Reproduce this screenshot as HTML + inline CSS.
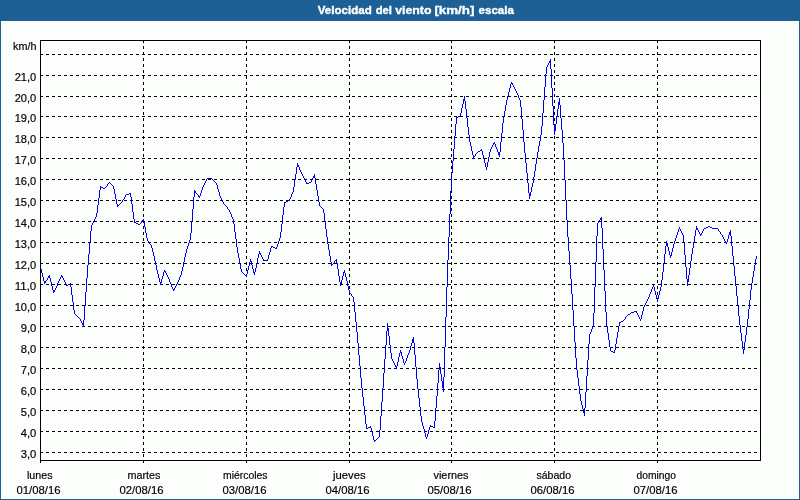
<!DOCTYPE html>
<html lang="es"><head><meta charset="utf-8"><title>Velocidad del viento [km/h] escala</title>
<style>
html,body{margin:0;padding:0;background:#1c6096;}
body{width:800px;height:500px;overflow:hidden;position:relative;font-family:"Liberation Sans",sans-serif;}
#panel{position:absolute;left:1px;top:21px;width:798px;height:478px;background:#fcfefc;}
svg{position:absolute;left:0;top:0;display:block;}
text{font-family:"Liberation Sans",sans-serif;font-size:11px;fill:#000;stroke:#000;stroke-width:0.18px;}
.t{font-weight:bold;fill:#fff;stroke:#fff;stroke-width:0.35px;font-size:11px;}
.g{stroke:#000;stroke-width:1;stroke-dasharray:3 3;fill:none;shape-rendering:crispEdges;}
.f{stroke:#000;stroke-width:1;fill:none;shape-rendering:crispEdges;}
.d{fill:#0202ea;stroke:none;shape-rendering:crispEdges;}
</style></head><body>
<div id="panel"></div>
<svg width="800" height="500" viewBox="0 0 800 500">
<text class="t" y="14"><tspan x="317.8" textLength="54" lengthAdjust="spacingAndGlyphs">Velocidad</tspan> <tspan x="375.7" textLength="16.3" lengthAdjust="spacingAndGlyphs">del</tspan> <tspan x="395.2" textLength="36.3" lengthAdjust="spacingAndGlyphs">viento</tspan> <tspan x="434.4" textLength="40" lengthAdjust="spacingAndGlyphs">[km/h]</tspan> <tspan x="478.5" textLength="35.5" lengthAdjust="spacingAndGlyphs">escala</tspan></text>
<line class="g" x1="40" x2="760" y1="452.5" y2="452.5"/>
<line class="g" x1="40" x2="760" y1="431.5" y2="431.5"/>
<line class="g" x1="40" x2="760" y1="410.5" y2="410.5"/>
<line class="g" x1="40" x2="760" y1="389.5" y2="389.5"/>
<line class="g" x1="40" x2="760" y1="368.5" y2="368.5"/>
<line class="g" x1="40" x2="760" y1="347.5" y2="347.5"/>
<line class="g" x1="40" x2="760" y1="326.5" y2="326.5"/>
<line class="g" x1="40" x2="760" y1="305.5" y2="305.5"/>
<line class="g" x1="40" x2="760" y1="284.5" y2="284.5"/>
<line class="g" x1="40" x2="760" y1="263.5" y2="263.5"/>
<line class="g" x1="40" x2="760" y1="242.5" y2="242.5"/>
<line class="g" x1="40" x2="760" y1="221.5" y2="221.5"/>
<line class="g" x1="40" x2="760" y1="200.5" y2="200.5"/>
<line class="g" x1="40" x2="760" y1="179.5" y2="179.5"/>
<line class="g" x1="40" x2="760" y1="158.5" y2="158.5"/>
<line class="g" x1="40" x2="760" y1="137.5" y2="137.5"/>
<line class="g" x1="40" x2="760" y1="116.5" y2="116.5"/>
<line class="g" x1="40" x2="760" y1="96.5" y2="96.5"/>
<line class="g" x1="40" x2="760" y1="75.5" y2="75.5"/>
<line class="g" x1="40" x2="760" y1="54.5" y2="54.5"/>
<line class="g" y1="40" y2="460" x1="143.5" x2="143.5"/>
<line class="g" y1="40" y2="460" x1="246.5" x2="246.5"/>
<line class="g" y1="40" y2="460" x1="349.5" x2="349.5"/>
<line class="g" y1="40" y2="460" x1="451.5" x2="451.5"/>
<line class="g" y1="40" y2="460" x1="554.5" x2="554.5"/>
<line class="g" y1="40" y2="460" x1="657.5" x2="657.5"/>
<path class="d" d="M40 267v2h1v-2zM41 269v4h1v-4zM42 273v4h1v-4zM43 277v4h1v-4zM44 281v3h1v-3zM45 281v2h1v-2zM46 280v1h1v-1zM47 278v2h1v-2zM48 276v2h1v-2zM49 275v3h1v-3zM50 278v4h1v-4zM51 282v4h1v-4zM52 286v4h1v-4zM53 290v3h1v-3zM54 290v2h1v-2zM55 288v2h1v-2zM56 286v2h1v-2zM57 283v3h1v-3zM58 281v2h1v-2zM59 279v2h1v-2zM60 277v2h1v-2zM61 275v2h1v-2zM62 276v2h1v-2zM63 278v2h1v-2zM64 280v2h1v-2zM65 282v2h1v-2zM66 284v2h1v-2zM67 285v1h1v-1zM68 284v1h1v-1zM69 284v1h1v-1zM70 283v4h1v-4zM71 287v8h1v-8zM72 295v7h1v-7zM73 302v8h1v-8zM74 310v4h1v-4zM75 314v1h1v-1zM76 315v1h1v-1zM77 316v1h1v-1zM78 317v1h1v-1zM79 318v1h1v-1zM80 319v2h1v-2zM81 321v2h1v-2zM82 323v2h1v-2zM83 320v7h1v-7zM84 306v14h1v-14zM85 292v14h1v-14zM86 278v14h1v-14zM87 265v13h1v-13zM88 254v11h1v-11zM89 242v12h1v-12zM90 231v11h1v-11zM91 225v6h1v-6zM92 223v2h1v-2zM93 221v2h1v-2zM94 219v2h1v-2zM95 217v2h1v-2zM96 213v4h1v-4zM97 205v8h1v-8zM98 198v7h1v-7zM99 190v8h1v-8zM100 186v4h1v-4zM101 187v1h1v-1zM102 187v1h1v-1zM103 188v1h1v-1zM104 188v1h1v-1zM105 187v1h1v-1zM106 186v1h1v-1zM107 184v2h1v-2zM108 183v1h1v-1zM109 182v1h1v-1zM110 183v1h1v-1zM111 184v1h1v-1zM112 185v1h1v-1zM113 186v3h1v-3zM114 189v5h1v-5zM115 194v5h1v-5zM116 199v5h1v-5zM117 204v3h1v-3zM118 205v1h1v-1zM119 204v1h1v-1zM120 203v1h1v-1zM121 202v1h1v-1zM122 200v2h1v-2zM123 199v1h1v-1zM124 197v2h1v-2zM125 195v2h1v-2zM126 194v1h1v-1zM127 194v1h1v-1zM128 194v1h1v-1zM129 193v1h1v-1zM130 193v4h1v-4zM131 197v7h1v-7zM132 204v8h1v-8zM133 212v7h1v-7zM134 219v4h1v-4zM135 222v1h1v-1zM136 223v1h1v-1zM137 223v1h1v-1zM138 224v1h1v-1zM139 224v1h1v-1zM140 223v1h1v-1zM141 221v2h1v-2zM142 220v1h1v-1zM143 219v3h1v-3zM144 222v5h1v-5zM145 227v6h1v-6zM146 233v5h1v-5zM147 238v3h1v-3zM148 241v1h1v-1zM149 242v2h1v-2zM150 244v1h1v-1zM151 245v3h1v-3zM152 248v4h1v-4zM153 252v4h1v-4zM154 256v5h1v-5zM155 261v4h1v-4zM156 265v5h1v-5zM157 270v4h1v-4zM158 274v4h1v-4zM159 278v4h1v-4zM160 282v3h1v-3zM161 279v4h1v-4zM162 276v3h1v-3zM163 272v4h1v-4zM164 270v2h1v-2zM165 271v2h1v-2zM166 273v2h1v-2zM167 275v2h1v-2zM168 277v2h1v-2zM169 279v3h1v-3zM170 282v2h1v-2zM171 284v3h1v-3zM172 287v2h1v-2zM173 289v2h1v-2zM174 288v2h1v-2zM175 286v2h1v-2zM176 284v2h1v-2zM177 282v2h1v-2zM178 280v2h1v-2zM179 277v3h1v-3zM180 275v2h1v-2zM181 271v4h1v-4zM182 267v4h1v-4zM183 262v5h1v-5zM184 257v5h1v-5zM185 253v4h1v-4zM186 249v4h1v-4zM187 246v3h1v-3zM188 243v3h1v-3zM189 240v3h1v-3zM190 233v7h1v-7zM191 221v12h1v-12zM192 209v12h1v-12zM193 197v12h1v-12zM194 190v7h1v-7zM195 191v2h1v-2zM196 193v1h1v-1zM197 194v1h1v-1zM198 195v2h1v-2zM199 196v2h1v-2zM200 193v3h1v-3zM201 190v3h1v-3zM202 187v3h1v-3zM203 185v2h1v-2zM204 183v2h1v-2zM205 181v2h1v-2zM206 179v2h1v-2zM207 178v1h1v-1zM208 178v1h1v-1zM209 178v1h1v-1zM210 178v1h1v-1zM211 178v1h1v-1zM212 179v1h1v-1zM213 180v1h1v-1zM214 181v1h1v-1zM215 182v1h1v-1zM216 183v2h1v-2zM217 185v4h1v-4zM218 189v3h1v-3zM219 192v4h1v-4zM220 196v2h1v-2zM221 198v2h1v-2zM222 200v2h1v-2zM223 202v2h1v-2zM224 204v1h1v-1zM225 205v1h1v-1zM226 206v1h1v-1zM227 207v2h1v-2zM228 209v1h1v-1zM229 210v2h1v-2zM230 212v2h1v-2zM231 214v3h1v-3zM232 217v2h1v-2zM233 219v5h1v-5zM234 224v8h1v-8zM235 232v7h1v-7zM236 239v8h1v-8zM237 247v6h1v-6zM238 253v5h1v-5zM239 258v6h1v-6zM240 264v5h1v-5zM241 269v3h1v-3zM242 272v1h1v-1zM243 273v1h1v-1zM244 274v1h1v-1zM245 275v1h1v-1zM246 274v3h1v-3zM247 270v4h1v-4zM248 266v4h1v-4zM249 262v4h1v-4zM250 259v3h1v-3zM251 261v4h1v-4zM252 265v4h1v-4zM253 269v4h1v-4zM254 272v3h1v-3zM255 268v4h1v-4zM256 263v5h1v-5zM257 258v5h1v-5zM258 254v4h1v-4zM259 251v3h1v-3zM260 253v2h1v-2zM261 255v2h1v-2zM262 257v2h1v-2zM263 259v2h1v-2zM264 260v1h1v-1zM265 260v1h1v-1zM266 260v1h1v-1zM267 259v2h1v-2zM268 255v4h1v-4zM269 252v3h1v-3zM270 248v4h1v-4zM271 246v2h1v-2zM272 246v1h1v-1zM273 247v1h1v-1zM274 247v1h1v-1zM275 248v1h1v-1zM276 247v2h1v-2zM277 244v3h1v-3zM278 241v3h1v-3zM279 238v3h1v-3zM280 232v6h1v-6zM281 224v8h1v-8zM282 215v9h1v-9zM283 207v8h1v-8zM284 202v5h1v-5zM285 202v1h1v-1zM286 201v1h1v-1zM287 201v1h1v-1zM288 200v1h1v-1zM289 199v2h1v-2zM290 197v2h1v-2zM291 194v3h1v-3zM292 192v2h1v-2zM293 187v5h1v-5zM294 180v7h1v-7zM295 174v6h1v-6zM296 167v7h1v-7zM297 163v4h1v-4zM298 165v2h1v-2zM299 167v3h1v-3zM300 170v2h1v-2zM301 172v2h1v-2zM302 174v2h1v-2zM303 176v2h1v-2zM304 178v2h1v-2zM305 180v2h1v-2zM306 182v2h1v-2zM307 183v1h1v-1zM308 183v1h1v-1zM309 182v1h1v-1zM310 182v1h1v-1zM311 180v2h1v-2zM312 178v2h1v-2zM313 176v2h1v-2zM314 174v4h1v-4zM315 178v6h1v-6zM316 184v6h1v-6zM317 190v6h1v-6zM318 196v6h1v-6zM319 202v4h1v-4zM320 206v1h1v-1zM321 207v1h1v-1zM322 208v1h1v-1zM323 209v4h1v-4zM324 213v8h1v-8zM325 221v8h1v-8zM326 229v8h1v-8zM327 237v7h1v-7zM328 244v6h1v-6zM329 250v6h1v-6zM330 256v6h1v-6zM331 262v4h1v-4zM332 264v1h1v-1zM333 263v1h1v-1zM334 261v2h1v-2zM335 260v1h1v-1zM336 259v4h1v-4zM337 263v6h1v-6zM338 269v7h1v-7zM339 276v6h1v-6zM340 282v4h1v-4zM341 280v4h1v-4zM342 276v4h1v-4zM343 272v4h1v-4zM344 270v3h1v-3zM345 273v4h1v-4zM346 277v4h1v-4zM347 281v5h1v-5zM348 286v4h1v-4zM349 290v3h1v-3zM350 293v1h1v-1zM351 294v2h1v-2zM352 296v1h1v-1zM353 297v5h1v-5zM354 302v10h1v-10zM355 312v10h1v-10zM356 322v10h1v-10zM357 332v11h1v-11zM358 343v12h1v-12zM359 355v11h1v-11zM360 366v12h1v-12zM361 378v10h1v-10zM362 388v9h1v-9zM363 397v9h1v-9zM364 406v9h1v-9zM365 415v9h1v-9zM366 424v5h1v-5zM367 428v1h1v-1zM368 427v1h1v-1zM369 427v1h1v-1zM370 426v2h1v-2zM371 428v4h1v-4zM372 432v4h1v-4zM373 436v4h1v-4zM374 440v2h1v-2zM375 440v1h1v-1zM376 439v1h1v-1zM377 438v1h1v-1zM378 437v1h1v-1zM379 430v7h1v-7zM380 416v14h1v-14zM381 402v14h1v-14zM382 388v14h1v-14zM383 373v15h1v-15zM384 359v14h1v-14zM385 345v14h1v-14zM386 331v14h1v-14zM387 323v8h1v-8zM388 328v8h1v-8zM389 336v9h1v-9zM390 345v8h1v-8zM391 353v6h1v-6zM392 359v2h1v-2zM393 361v2h1v-2zM394 363v2h1v-2zM395 365v2h1v-2zM396 366v3h1v-3zM397 362v4h1v-4zM398 357v5h1v-5zM399 353v4h1v-4zM400 350v3h1v-3zM401 352v4h1v-4zM402 356v3h1v-3zM403 359v4h1v-4zM404 363v2h1v-2zM405 361v2h1v-2zM406 358v3h1v-3zM407 355v3h1v-3zM408 353v2h1v-2zM409 350v3h1v-3zM410 346v4h1v-4zM411 343v3h1v-3zM412 339v4h1v-4zM413 337v6h1v-6zM414 343v12h1v-12zM415 355v12h1v-12zM416 367v12h1v-12zM417 379v10h1v-10zM418 389v9h1v-9zM419 398v9h1v-9zM420 407v9h1v-9zM421 416v6h1v-6zM422 422v4h1v-4zM423 426v3h1v-3zM424 429v4h1v-4zM425 433v4h1v-4zM426 437v2h1v-2zM427 434v3h1v-3zM428 430v4h1v-4zM429 427v3h1v-3zM430 425v2h1v-2zM431 426v1h1v-1zM432 426v1h1v-1zM433 427v1h1v-1zM434 421v7h1v-7zM435 408v13h1v-13zM436 396v12h1v-12zM437 383v13h1v-13zM438 370v13h1v-13zM439 363v7h1v-7zM440 367v7h1v-7zM441 374v7h1v-7zM442 381v7h1v-7zM443 377v15h1v-15zM444 347v30h1v-30zM445 317v30h1v-30zM446 287v30h1v-30zM447 260v27h1v-27zM448 237v23h1v-23zM449 214v23h1v-23zM450 191v23h1v-23zM451 173v18h1v-18zM452 161v12h1v-12zM453 149v12h1v-12zM454 136v13h1v-13zM455 124v12h1v-12zM456 117v7h1v-7zM457 117v1h1v-1zM458 116v1h1v-1zM459 116v1h1v-1zM460 113v3h1v-3zM461 108v5h1v-5zM462 104v4h1v-4zM463 99v5h1v-5zM464 96v5h1v-5zM465 101v8h1v-8zM466 109v9h1v-9zM467 118v9h1v-9zM468 127v8h1v-8zM469 135v7h1v-7zM470 142v4h1v-4zM471 146v5h1v-5zM472 151v4h1v-4zM473 155v3h1v-3zM474 156v1h1v-1zM475 154v2h1v-2zM476 153v1h1v-1zM477 152v1h1v-1zM478 151v1h1v-1zM479 151v1h1v-1zM480 150v1h1v-1zM481 149v2h1v-2zM482 151v4h1v-4zM483 155v4h1v-4zM484 159v4h1v-4zM485 163v4h1v-4zM486 167v3h1v-3zM487 162v5h1v-5zM488 157v5h1v-5zM489 152v5h1v-5zM490 149v3h1v-3zM491 147v2h1v-2zM492 145v2h1v-2zM493 143v2h1v-2zM494 142v2h1v-2zM495 144v3h1v-3zM496 147v2h1v-2zM497 149v3h1v-3zM498 152v3h1v-3zM499 152v5h1v-5zM500 142v10h1v-10zM501 133v9h1v-9zM502 123v10h1v-10zM503 116v7h1v-7zM504 111v5h1v-5zM505 105v6h1v-6zM506 100v5h1v-5zM507 96v4h1v-4zM508 92v4h1v-4zM509 88v4h1v-4zM510 84v4h1v-4zM511 82v2h1v-2zM512 83v2h1v-2zM513 85v2h1v-2zM514 87v2h1v-2zM515 89v2h1v-2zM516 91v2h1v-2zM517 93v2h1v-2zM518 95v3h1v-3zM519 98v2h1v-2zM520 100v7h1v-7zM521 107v12h1v-12zM522 119v11h1v-11zM523 130v12h1v-12zM524 142v11h1v-11zM525 153v10h1v-10zM526 163v10h1v-10zM527 173v10h1v-10zM528 183v10h1v-10zM529 193v6h1v-6zM530 192v4h1v-4zM531 187v5h1v-5zM532 183v4h1v-4zM533 177v6h1v-6zM534 171v6h1v-6zM535 164v7h1v-7zM536 158v6h1v-6zM537 152v6h1v-6zM538 146v6h1v-6zM539 141v5h1v-5zM540 135v6h1v-6zM541 126v9h1v-9zM542 113v13h1v-13zM543 100v13h1v-13zM544 87v13h1v-13zM545 74v13h1v-13zM546 67v7h1v-7zM547 65v2h1v-2zM548 63v2h1v-2zM549 61v2h1v-2zM550 59v10h1v-10zM551 69v19h1v-19zM552 88v18h1v-18zM553 106v19h1v-19zM554 125v10h1v-10zM555 124v7h1v-7zM556 117v7h1v-7zM557 109v8h1v-8zM558 102v7h1v-7zM559 98v7h1v-7zM560 105v13h1v-13zM561 118v12h1v-12zM562 130v13h1v-13zM563 143v17h1v-17zM564 160v20h1v-20zM565 180v20h1v-20zM566 200v20h1v-20zM567 220v17h1v-17zM568 237v14h1v-14zM569 251v14h1v-14zM570 265v14h1v-14zM571 279v15h1v-15zM572 294v16h1v-16zM573 310v16h1v-16zM574 326v16h1v-16zM575 342v16h1v-16zM576 358v12h1v-12zM577 370v8h1v-8zM578 378v8h1v-8zM579 386v8h1v-8zM580 394v7h1v-7zM581 401v4h1v-4zM582 405v4h1v-4zM583 409v4h1v-4zM584 408v8h1v-8zM585 392v16h1v-16zM586 376v16h1v-16zM587 360v16h1v-16zM588 344v16h1v-16zM589 334v10h1v-10zM590 332v2h1v-2zM591 329v3h1v-3zM592 327v2h1v-2zM593 313v14h1v-14zM594 287v26h1v-26zM595 262v25h1v-25zM596 236v26h1v-26zM597 223v13h1v-13zM598 221v2h1v-2zM599 220v1h1v-1zM600 218v2h1v-2zM601 217v11h1v-11zM602 228v21h1v-21zM603 249v21h1v-21zM604 270v21h1v-21zM605 291v21h1v-21zM606 312v14h1v-14zM607 326v7h1v-7zM608 333v7h1v-7zM609 340v7h1v-7zM610 347v4h1v-4zM611 351v1h1v-1zM612 351v1h1v-1zM613 352v1h1v-1zM614 350v3h1v-3zM615 344v6h1v-6zM616 338v6h1v-6zM617 332v6h1v-6zM618 326v6h1v-6zM619 322v4h1v-4zM620 322v1h1v-1zM621 321v1h1v-1zM622 321v1h1v-1zM623 320v1h1v-1zM624 319v1h1v-1zM625 317v2h1v-2zM626 316v1h1v-1zM627 315v1h1v-1zM628 314v1h1v-1zM629 314v1h1v-1zM630 313v1h1v-1zM631 312v1h1v-1zM632 312v1h1v-1zM633 312v1h1v-1zM634 311v1h1v-1zM635 311v1h1v-1zM636 311v2h1v-2zM637 313v2h1v-2zM638 315v2h1v-2zM639 317v2h1v-2zM640 319v2h1v-2zM641 315v4h1v-4zM642 311v4h1v-4zM643 307v4h1v-4zM644 305v2h1v-2zM645 303v2h1v-2zM646 301v2h1v-2zM647 299v2h1v-2zM648 297v2h1v-2zM649 294v3h1v-3zM650 292v2h1v-2zM651 289v3h1v-3zM652 287v2h1v-2zM653 285v2h1v-2zM654 287v4h1v-4zM655 291v4h1v-4zM656 295v4h1v-4zM657 299v3h1v-3zM658 295v4h1v-4zM659 291v4h1v-4zM660 287v4h1v-4zM661 280v7h1v-7zM662 272v8h1v-8zM663 263v9h1v-9zM664 254v9h1v-9zM665 246v8h1v-8zM666 241v5h1v-5zM667 243v4h1v-4zM668 247v4h1v-4zM669 251v4h1v-4zM670 255v3h1v-3zM671 252v4h1v-4zM672 248v4h1v-4zM673 244v4h1v-4zM674 241v3h1v-3zM675 238v3h1v-3zM676 235v3h1v-3zM677 232v3h1v-3zM678 229v3h1v-3zM679 227v2h1v-2zM680 229v2h1v-2zM681 231v2h1v-2zM682 233v2h1v-2zM683 235v8h1v-8zM684 243v12h1v-12zM685 255v12h1v-12zM686 267v12h1v-12zM687 279v7h1v-7zM688 275v7h1v-7zM689 268v7h1v-7zM690 261v7h1v-7zM691 254v7h1v-7zM692 248v6h1v-6zM693 242v6h1v-6zM694 236v6h1v-6zM695 230v6h1v-6zM696 226v4h1v-4zM697 228v2h1v-2zM698 230v2h1v-2zM699 232v2h1v-2zM700 234v2h1v-2zM701 233v2h1v-2zM702 231v2h1v-2zM703 229v2h1v-2zM704 228v1h1v-1zM705 228v1h1v-1zM706 227v1h1v-1zM707 227v1h1v-1zM708 226v1h1v-1zM709 226v1h1v-1zM710 227v1h1v-1zM711 227v1h1v-1zM712 228v1h1v-1zM713 228v1h1v-1zM714 228v1h1v-1zM715 228v1h1v-1zM716 228v1h1v-1zM717 228v1h1v-1zM718 229v2h1v-2zM719 231v1h1v-1zM720 232v2h1v-2zM721 234v1h1v-1zM722 235v2h1v-2zM723 237v2h1v-2zM724 239v2h1v-2zM725 241v2h1v-2zM726 242v2h1v-2zM727 239v3h1v-3zM728 235v4h1v-4zM729 232v3h1v-3zM730 230v6h1v-6zM731 236v10h1v-10zM732 246v10h1v-10zM733 256v10h1v-10zM734 266v10h1v-10zM735 276v10h1v-10zM736 286v10h1v-10zM737 296v10h1v-10zM738 306v10h1v-10zM739 316v9h1v-9zM740 325v8h1v-8zM741 333v8h1v-8zM742 341v8h1v-8zM743 349v5h1v-5zM744 342v8h1v-8zM745 335v7h1v-7zM746 327v8h1v-8zM747 319v8h1v-8zM748 309v10h1v-10zM749 300v9h1v-9zM750 290v10h1v-10zM751 283v7h1v-7zM752 277v6h1v-6zM753 271v6h1v-6zM754 265v6h1v-6zM755 259v6h1v-6zM756 256v3h1v-3z"/>
<rect class="f" x="40.5" y="40.5" width="720" height="420"/>
<line class="f" x1="40.5" x2="40.5" y1="460" y2="463"/>
<line class="f" x1="143.5" x2="143.5" y1="460" y2="463"/>
<line class="f" x1="246.5" x2="246.5" y1="460" y2="463"/>
<line class="f" x1="349.5" x2="349.5" y1="460" y2="463"/>
<line class="f" x1="451.5" x2="451.5" y1="460" y2="463"/>
<line class="f" x1="554.5" x2="554.5" y1="460" y2="463"/>
<line class="f" x1="657.5" x2="657.5" y1="460" y2="463"/>
<text x="13.1" y="50" textLength="23.4" lengthAdjust="spacingAndGlyphs">km/h</text>
<text x="20.7" y="458" textLength="15.6" lengthAdjust="spacingAndGlyphs">3,0</text>
<text x="20.7" y="437" textLength="15.6" lengthAdjust="spacingAndGlyphs">4,0</text>
<text x="20.7" y="416" textLength="15.6" lengthAdjust="spacingAndGlyphs">5,0</text>
<text x="20.7" y="395" textLength="15.6" lengthAdjust="spacingAndGlyphs">6,0</text>
<text x="20.7" y="374" textLength="15.6" lengthAdjust="spacingAndGlyphs">7,0</text>
<text x="20.7" y="353" textLength="15.6" lengthAdjust="spacingAndGlyphs">8,0</text>
<text x="20.7" y="332" textLength="15.6" lengthAdjust="spacingAndGlyphs">9,0</text>
<text x="14.7" y="311" textLength="21.6" lengthAdjust="spacingAndGlyphs">10,0</text>
<text x="14.7" y="290" textLength="21.6" lengthAdjust="spacingAndGlyphs">11,0</text>
<text x="14.7" y="269" textLength="21.6" lengthAdjust="spacingAndGlyphs">12,0</text>
<text x="14.7" y="248" textLength="21.6" lengthAdjust="spacingAndGlyphs">13,0</text>
<text x="14.7" y="227" textLength="21.6" lengthAdjust="spacingAndGlyphs">14,0</text>
<text x="14.7" y="206" textLength="21.6" lengthAdjust="spacingAndGlyphs">15,0</text>
<text x="14.7" y="185" textLength="21.6" lengthAdjust="spacingAndGlyphs">16,0</text>
<text x="14.7" y="164" textLength="21.6" lengthAdjust="spacingAndGlyphs">17,0</text>
<text x="14.7" y="143" textLength="21.6" lengthAdjust="spacingAndGlyphs">18,0</text>
<text x="14.7" y="122" textLength="21.6" lengthAdjust="spacingAndGlyphs">19,0</text>
<text x="14.7" y="102" textLength="21.6" lengthAdjust="spacingAndGlyphs">20,0</text>
<text x="14.7" y="81" textLength="21.6" lengthAdjust="spacingAndGlyphs">21,0</text>
<text x="27" y="479" textLength="25.5" lengthAdjust="spacingAndGlyphs">lunes</text>
<text x="16.5" y="494" textLength="44" lengthAdjust="spacingAndGlyphs">01/08/16</text>
<text x="127.5" y="479" textLength="33" lengthAdjust="spacingAndGlyphs">martes</text>
<text x="119.5" y="494" textLength="44" lengthAdjust="spacingAndGlyphs">02/08/16</text>
<text x="223" y="479" textLength="44.5" lengthAdjust="spacingAndGlyphs">miércoles</text>
<text x="222.5" y="494" textLength="44" lengthAdjust="spacingAndGlyphs">03/08/16</text>
<text x="333" y="479" textLength="32.5" lengthAdjust="spacingAndGlyphs">jueves</text>
<text x="325.5" y="494" textLength="44" lengthAdjust="spacingAndGlyphs">04/08/16</text>
<text x="433.5" y="479" textLength="35" lengthAdjust="spacingAndGlyphs">viernes</text>
<text x="427.5" y="494" textLength="44" lengthAdjust="spacingAndGlyphs">05/08/16</text>
<text x="536.5" y="479" textLength="34.5" lengthAdjust="spacingAndGlyphs">sábado</text>
<text x="530.5" y="494" textLength="44" lengthAdjust="spacingAndGlyphs">06/08/16</text>
<text x="636.5" y="479" textLength="39.5" lengthAdjust="spacingAndGlyphs">domingo</text>
<text x="633.5" y="494" textLength="44" lengthAdjust="spacingAndGlyphs">07/08/16</text>
</svg>
</body></html>
